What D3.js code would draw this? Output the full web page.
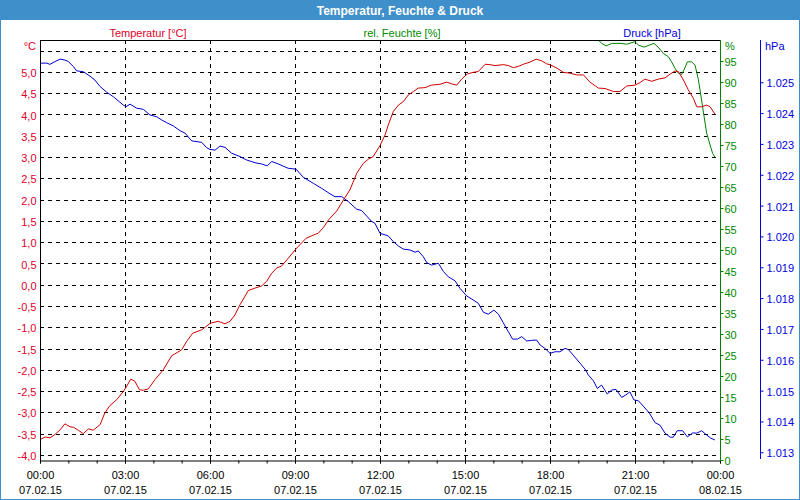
<!DOCTYPE html>
<html><head><meta charset="utf-8">
<script src="https://cdn.jsdelivr.net/npm/d3@7"></script>
<style>
html,body{margin:0;padding:0;background:#fff}
svg{display:block}
text{font-family:"Liberation Sans",Arial,sans-serif;font-size:11px}
</style>
</head><body><svg id="c" width="800" height="500"></svg>
<script>
// ---- data: [hour since 07.02.15 00:00, value] ----
const tempSeries = [[0.00,-3.64],[0.18,-3.58],[0.35,-3.60],[0.53,-3.52],[0.71,-3.41],[0.88,-3.27],[1.06,-3.34],[1.18,-3.35],[1.35,-3.42],[1.53,-3.50],[1.71,-3.39],[1.88,-3.42],[2.12,-3.29],[2.29,-3.01],[2.47,-2.84],[2.71,-2.70],[2.94,-2.51],[3.06,-2.39],[3.20,-2.22],[3.35,-2.27],[3.51,-2.47],[3.65,-2.48],[3.82,-2.45],[4.06,-2.23],[4.35,-2.00],[4.65,-1.67],[5.00,-1.53],[5.18,-1.33],[5.39,-1.14],[5.71,-1.06],[6.00,-0.91],
[6.29,-0.86],[6.53,-0.92],[6.71,-0.86],[6.88,-0.71],[7.06,-0.47],[7.35,-0.14],[7.59,-0.08],[7.82,-0.03],[8.00,0.08],[8.18,0.27],[8.35,0.39],[8.53,0.44],[8.76,0.62],[9.06,0.86],[9.39,1.09],[9.59,1.15],[9.82,1.21],[10.00,1.34],[10.18,1.52],[10.47,1.73],[10.71,1.99],[10.94,2.23],[11.18,2.62],[11.41,2.85],[11.59,2.95],[11.76,3.01],[12.00,3.27],
[12.18,3.52],[12.29,3.75],[12.47,4.07],[12.65,4.22],[12.82,4.30],[13.00,4.46],[13.18,4.54],[13.35,4.62],[13.59,4.63],[13.82,4.69],[14.12,4.71],[14.35,4.76],[14.53,4.72],[14.71,4.69],[14.88,4.83],[15.08,4.95],[15.29,4.99],[15.47,5.01],[15.71,5.18],[15.88,5.17],[16.06,5.15],[16.35,5.17],[16.53,5.15],[16.71,5.10],[16.88,5.13],[17.06,5.18],[17.29,5.23],[17.51,5.30],[17.71,5.26],[17.88,5.19],[18.00,5.17],
[18.24,5.09],[18.47,4.99],[18.71,4.97],[18.94,4.93],[19.18,4.93],[19.41,4.76],[19.71,4.62],[19.94,4.61],[20.24,4.54],[20.47,4.54],[20.71,4.67],[21.00,4.69],[21.18,4.75],[21.35,4.83],[21.59,4.78],[21.82,4.83],[22.06,4.86],[22.24,4.95],[22.41,5.02],[22.53,5.01],[22.71,4.81],[22.88,4.58],[23.06,4.38],[23.18,4.18],[23.35,4.18],[23.53,4.22],[23.65,4.18],[23.82,4.01]];

const humSeries = [[19.55,101.5],[19.71,100],[19.82,99.2],[19.98,98.6],[20.18,99.2],[20.47,99.2],[20.71,99.0],[21.00,99.6],[21.12,98.8],[21.32,98.3],[21.51,98.8],[21.67,99.2],[21.82,98.3],[22.00,96.8],[22.18,96.0],[22.29,94.8],[22.41,93.3],[22.53,92.1],[22.65,91.8],[22.73,92.9],[22.85,94.8],[23.00,94.8],[23.12,94.0],[23.24,90.5],[23.35,85.7],[23.44,81.7],[23.53,77.8],[23.65,75.0],[23.74,73.0],[23.82,72.1]];

const presSeries = [[0.00,1025.62],[0.24,1025.62],[0.35,1025.58],[0.53,1025.67],[0.71,1025.75],[0.88,1025.72],[1.00,1025.67],[1.18,1025.51],[1.29,1025.37],[1.53,1025.34],[1.76,1025.20],[1.94,1025.07],[2.12,1024.86],[2.35,1024.68],[2.59,1024.53],[2.76,1024.40],[2.94,1024.26],[3.04,1024.21],[3.18,1024.29],[3.41,1024.16],[3.65,1024.12],[3.88,1023.94],[4.12,1023.88],[4.29,1023.78],[4.47,1023.69],[4.71,1023.58],[4.94,1023.43],[5.12,1023.35],[5.35,1023.10],[5.71,1023.05],[5.88,1022.88],[6.00,1022.82],
[6.18,1022.80],[6.35,1022.93],[6.53,1022.89],[6.76,1022.70],[7.06,1022.59],[7.29,1022.48],[7.59,1022.39],[7.82,1022.35],[8.02,1022.29],[8.18,1022.43],[8.41,1022.35],[8.76,1022.21],[9.04,1022.18],[9.29,1021.92],[9.65,1021.72],[9.94,1021.56],[10.24,1021.38],[10.41,1021.29],[10.65,1021.29],[10.88,1021.13],[11.18,1020.88],[11.35,1020.84],[11.53,1020.66],[11.71,1020.48],[11.82,1020.43],[12.00,1020.10],
[12.29,1020.02],[12.47,1019.83],[12.65,1019.69],[12.82,1019.59],[13.06,1019.56],[13.24,1019.49],[13.35,1019.53],[13.53,1019.34],[13.65,1019.15],[13.82,1019.07],[14.06,1019.13],[14.24,1018.86],[14.41,1018.69],[14.65,1018.56],[14.82,1018.32],[15.06,1018.07],[15.29,1017.94],[15.47,1017.83],[15.65,1017.54],[15.82,1017.48],[16.02,1017.61],[16.18,1017.48],[16.35,1017.20],[16.53,1016.91],[16.68,1016.67],[16.85,1016.67],[17.00,1016.75],[17.18,1016.61],[17.35,1016.63],[17.53,1016.64],[17.65,1016.48],[17.82,1016.37],[18.00,1016.21],
[18.18,1016.26],[18.35,1016.26],[18.53,1016.37],[18.65,1016.33],[18.82,1016.15],[19.06,1015.89],[19.24,1015.69],[19.35,1015.51],[19.53,1015.32],[19.67,1015.07],[19.82,1015.18],[20.02,1014.89],[20.18,1015.02],[20.33,1015.04],[20.53,1014.78],[20.68,1014.86],[20.82,1014.96],[20.96,1014.70],[21.12,1014.67],[21.29,1014.50],[21.51,1014.27],[21.71,1013.96],[21.88,1013.88],[22.06,1013.62],[22.24,1013.49],[22.35,1013.49],[22.49,1013.70],[22.68,1013.70],[22.85,1013.50],[23.04,1013.63],[23.18,1013.62],[23.35,1013.70],[23.53,1013.56],[23.67,1013.46],[23.82,1013.40]];

// ---- tick values / labels ----
const timeTicks = [0,3,6,9,12,15,18,21,24];
const timeLabels = ["00:00","03:00","06:00","09:00","12:00","15:00","18:00","21:00","00:00"];
const dateLabels = ["07.02.15","07.02.15","07.02.15","07.02.15","07.02.15","07.02.15","07.02.15","07.02.15","08.02.15"];
const hourTicks = [0,1,2,3,4,5,6,7,8,9,10,11,12,13,14,15,16,17,18,19,20,21,22,23,24];
const tempTicks = [-4,-3.5,-3,-2.5,-2,-1.5,-1,-0.5,0,0.5,1,1.5,2,2.5,3,3.5,4,4.5,5,5.5];
const tempLabels = ["-4,0","-3,5","-3,0","-2,5","-2,0","-1,5","-1,0","-0,5","0,0","0,5","1,0","1,5","2,0","2,5","3,0","3,5","4,0","4,5","5,0",""];
const humTicks = [0,5,10,15,20,25,30,35,40,45,50,55,60,65,70,75,80,85,90,95];
const humLabels = ["0","5","10","15","20","25","30","35","40","45","50","55","60","65","70","75","80","85","90","95"];
const presTicks = [1013,1014,1015,1016,1017,1018,1019,1020,1021,1022,1023,1024,1025];
const presLabels = ["1.013","1.014","1.015","1.016","1.017","1.018","1.019","1.020","1.021","1.022","1.023","1.024","1.025"];
const title = "Temperatur, Feuchte & Druck";
const seriesNames = ["Temperatur [°C]","rel. Feuchte [%]","Druck [hPa]"];

// ---- layout ----
const L=40, R=720, T=40, B=460;
const RED="#d00000", GREEN="#008000", BLUE="#0000d0";
const RED_T="#e0002a", GREEN_T="#008a00", BLUE_T="#0000e0";

const svg = d3.select("#c");
const x = d3.scaleLinear().domain([0,24]).range([L,R]);
const yT = d3.scaleLinear().domain([-4.12,5.75]).range([B,T]);
const yH = d3.scaleLinear().domain([0,100]).range([B,T]);
const yP = d3.scaleLinear().domain([1012.75,1026.37]).range([B,T]);

// title bar
svg.append("rect").attr("x",0).attr("y",0).attr("width",800).attr("height",20).attr("fill","#3e8fca");
svg.append("text").attr("x",400).attr("y",14.5).attr("text-anchor","middle")
  .attr("fill","#fff").style("font-weight","bold").style("font-size","12px").text(title);
// window border
svg.append("rect").attr("x",0.5).attr("y",0.5).attr("width",799).attr("height",499)
  .attr("fill","none").attr("stroke","#3e8fca");

// series names
const nameX=[148,402,652], nameC=[RED_T,GREEN_T,BLUE_T];
seriesNames.forEach((n,i)=>svg.append("text").attr("x",nameX[i]).attr("y",36.5)
  .attr("text-anchor","middle").attr("fill",nameC[i]).text(n));

// grid
const g = svg.append("g");
g.selectAll("line.h").data(tempTicks).join("line")
  .attr("x1",L).attr("x2",R).attr("y1",d=>Math.round(yT(d))+0.5).attr("y2",d=>Math.round(yT(d))+0.5)
  .attr("stroke","#000").attr("stroke-dasharray","4,4").attr("shape-rendering","crispEdges");
g.selectAll("line.v").data(timeTicks.slice(1,-1)).join("line")
  .attr("x1",d=>Math.round(x(d))+0.5).attr("x2",d=>Math.round(x(d))+0.5).attr("y1",T).attr("y2",B)
  .attr("stroke","#000").attr("stroke-dasharray","4,4").attr("shape-rendering","crispEdges");

// lines
svg.append("clipPath").attr("id","clip").append("rect").attr("x",L).attr("y",T+1).attr("width",R-L).attr("height",B-T-1);
const lines = svg.append("g").attr("clip-path","url(#clip)");
const mk = ys => d3.line().x(d=>x(d[0])).y(d=>ys(d[1]));
lines.append("path").datum(presSeries).attr("d",mk(yP)).attr("fill","none").attr("stroke",BLUE).attr("stroke-width",1);
lines.append("path").datum(humSeries).attr("d",mk(yH)).attr("fill","none").attr("stroke",GREEN).attr("stroke-width",1);
lines.append("path").datum(tempSeries).attr("d",mk(yT)).attr("fill","none").attr("stroke",RED).attr("stroke-width",1);

// frame lines
svg.append("line").attr("x1",L).attr("x2",R).attr("y1",T+0.5).attr("y2",T+0.5).attr("stroke","#000");

// x axis: hourly minor ticks
const xMinor = svg.append("g").attr("transform",`translate(0,${B+0.5})`)
  .call(d3.axisBottom(x).tickValues(hourTicks).tickSize(3).tickSizeOuter(0).tickFormat(""));
xMinor.select(".domain").attr("stroke","#000");
const xMajor = svg.append("g").attr("transform",`translate(0,${B+0.5})`)
  .call(d3.axisBottom(x).tickValues(timeTicks).tickSize(3).tickSizeOuter(0).tickPadding(8)
    .tickFormat((d,i)=>timeLabels[i]));
xMajor.select(".domain").remove();
xMajor.selectAll(".tick text").each(function(d,i){
  const t=d3.select(this); t.text(null).attr("fill","#000");
  t.append("tspan").attr("x",0).text(timeLabels[i]);
  t.append("tspan").attr("x",0).attr("dy","1.32em").text(dateLabels[i]);
});
svg.selectAll(".tick line").attr("stroke","#000");
svg.selectAll("g text").style("font-family",null).style("font-size",null);
xMajor.attr("font-family",null).attr("font-size",null);
xMinor.attr("font-family",null).attr("font-size",null);

// left temperature axis
const aT = svg.append("g").attr("transform",`translate(${L+0.5},0)`)
  .call(d3.axisLeft(yT).tickValues(tempTicks).tickSize(0).tickPadding(4).tickSizeOuter(0)
    .tickFormat((d,i)=>tempLabels[i]));
aT.attr("font-family",null).attr("font-size",null);
aT.select(".domain").attr("stroke","#000").attr("d",`M0,${T}V${B+3}`);
aT.selectAll("text").attr("fill",RED_T).attr("dy","0.42em");
svg.append("text").attr("x",36).attr("y",50).attr("text-anchor","end").attr("fill",RED_T).text("°C");

// right humidity axis
const aH = svg.append("g").attr("transform",`translate(${R+0.5},0)`)
  .call(d3.axisRight(yH).tickValues(humTicks).tickSize(3).tickPadding(1).tickSizeOuter(0)
    .tickFormat((d,i)=>humLabels[i]));
aH.attr("font-family",null).attr("font-size",null);
aH.select(".domain").attr("stroke",GREEN).attr("d",`M0,${T}V${B+1}`);
aH.selectAll(".tick line").attr("stroke",GREEN);
aH.selectAll("text").attr("fill",GREEN_T).attr("dy","0.4em");
svg.append("text").attr("x",725).attr("y",50).attr("fill",GREEN_T).text("%");

// right pressure axis
const aP = svg.append("g").attr("transform",`translate(760.5,0)`)
  .call(d3.axisRight(yP).tickValues(presTicks).tickSize(3).tickPadding(3).tickSizeOuter(0)
    .tickFormat((d,i)=>presLabels[i]));
aP.attr("font-family",null).attr("font-size",null);
aP.select(".domain").attr("stroke",BLUE).attr("d",`M0,${T}V${B-1}`);
aP.selectAll(".tick line").attr("stroke",BLUE);
aP.selectAll("text").attr("fill",BLUE_T).attr("dy","0.4em");
svg.append("text").attr("x",765).attr("y",50).attr("fill",BLUE_T).text("hPa");
</script>
</body></html>
